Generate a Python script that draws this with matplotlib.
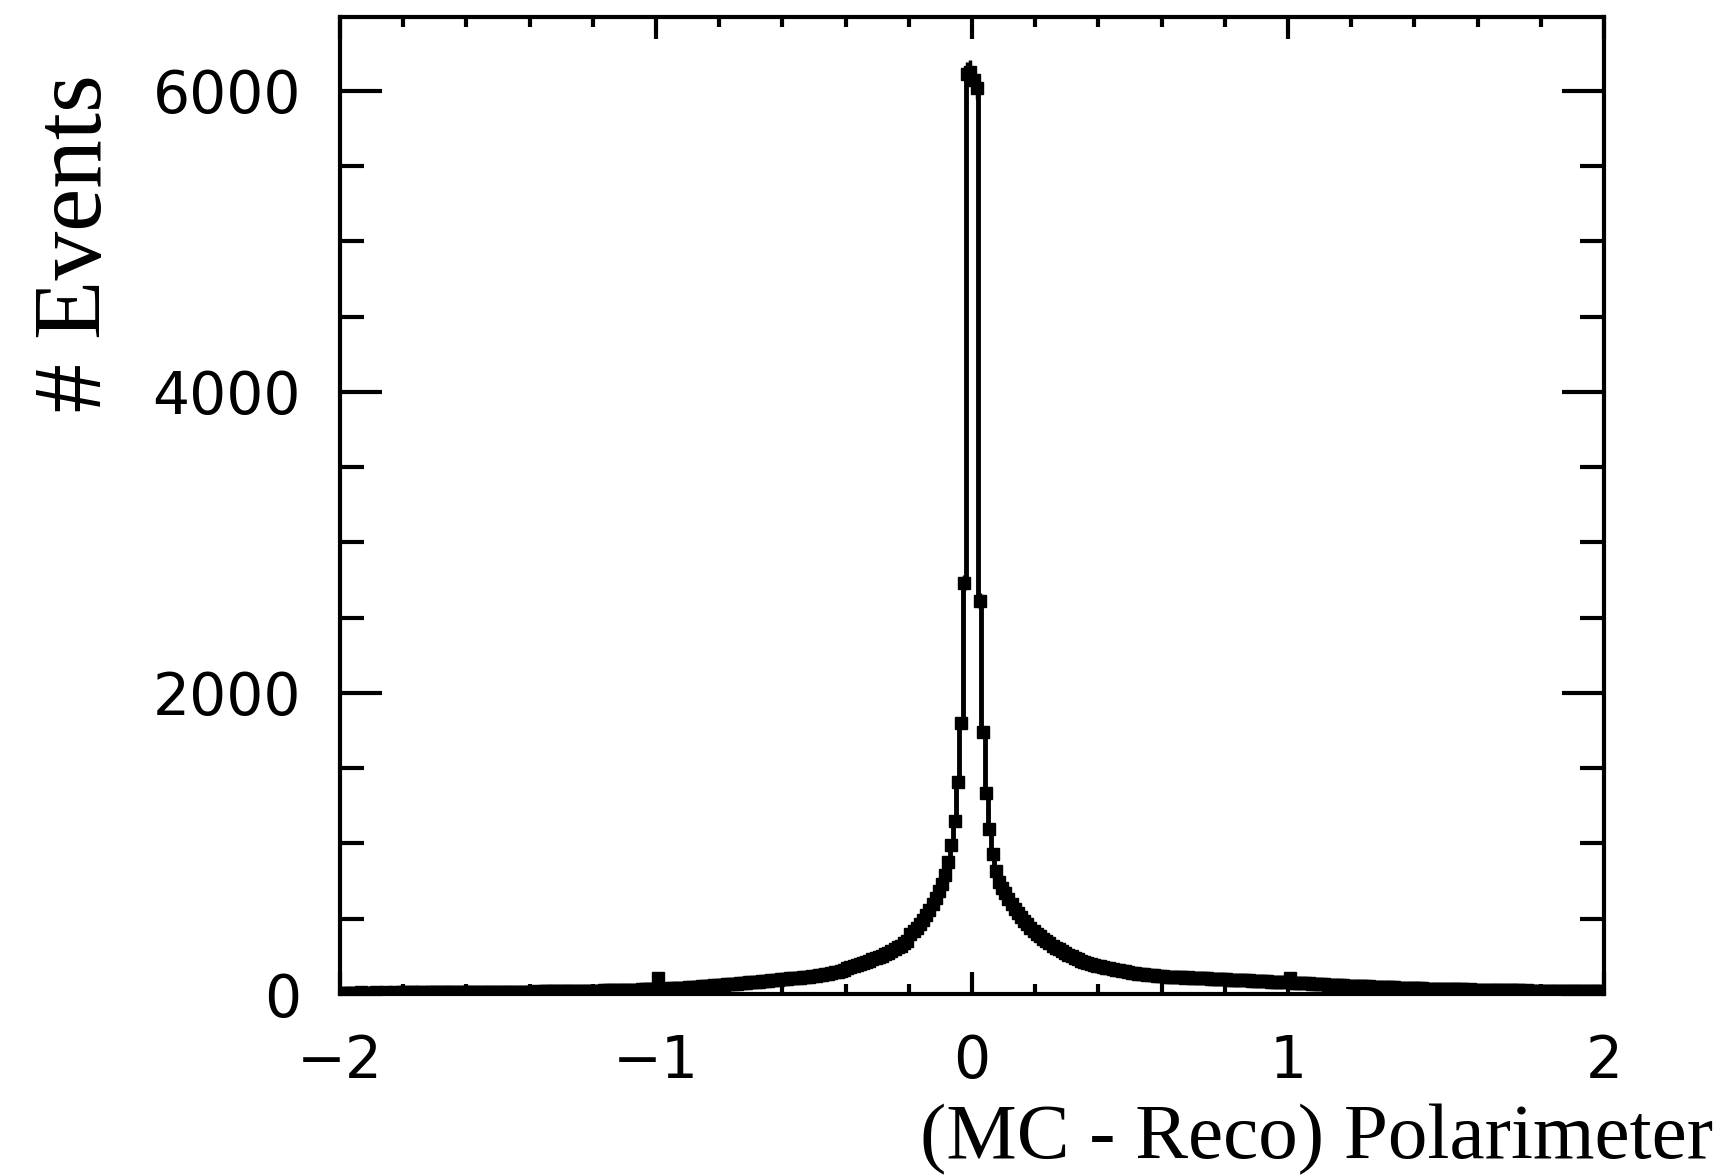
import numpy as np
import matplotlib.pyplot as plt

# bin edges: 400 bins of 0.01 between -2 and 2
x_lo, x_hi, n_bins = -2.0, 2.0, 400

# left half, bins centred -1.995 ... -0.005
left_counts = [
    8, 9, 7, 8, 9, 8, 10, 8, 9, 7, 9, 10, 8, 9, 10, 9, 8, 10, 9, 10,
    10, 9, 11, 10, 10, 11, 9, 11, 12, 10, 11, 10, 12, 11, 11, 12, 10, 12, 11, 12,
    12, 13, 12, 11, 13, 12, 14, 13, 12, 14, 13, 14, 13, 15, 14, 13, 15, 14, 15, 16,
    15, 16, 17, 16, 17, 18, 17, 18, 19, 18, 19, 20, 19, 20, 21, 20, 21, 22, 21, 22,
    22, 23, 23, 24, 24, 25, 25, 26, 26, 27, 27, 28, 28, 29, 29, 30, 30, 31, 31, 32,
    105, 34, 35, 36, 37, 38, 39, 40, 41, 43, 44, 45, 47, 48, 50, 52, 53, 55, 57, 59,
    61, 62, 64, 66, 68, 69, 71, 73, 75, 77, 79, 81, 83, 85, 87, 89, 91, 93, 95, 97,
    99, 101, 103, 105, 107, 109, 111, 113, 115, 118, 121, 124, 127, 130, 134, 138, 143, 148, 154, 161,
    172, 178, 185, 192, 199, 206, 214, 222, 230, 238, 246, 255, 265, 275, 286, 297, 309, 322, 336, 350,
    400, 418, 440, 465, 492, 522, 558, 596, 638, 682, 730, 790, 880, 990, 1150, 1410, 1800, 2730, 6110, 6125,
]

# right half, bins centred 0.005 ... 1.995
right_counts = [
    6070, 6020, 2610, 1740, 1335, 1095, 930, 815, 745, 705, 668, 630, 598, 566, 538, 510, 485, 462, 440, 420,
    400, 382, 366, 350, 336, 322, 308, 296, 284, 272, 261, 250, 240, 230, 222, 214, 206, 199, 193, 188,
    183, 178, 174, 170, 166, 162, 158, 154, 150, 146, 142, 139, 136, 133, 130, 127, 125, 123, 121, 119,
    118, 115, 116, 113, 114, 111, 112, 109, 110, 107, 108, 105, 106, 103, 104, 101, 102, 99, 100, 97,
    97, 96, 94, 95, 92, 93, 90, 91, 88, 89, 86, 87, 84, 85, 83, 82, 81, 80, 79, 78,
    105, 76, 75, 74, 72, 71, 70, 69, 67, 66, 65, 64, 62, 61, 60, 59, 58, 57, 56, 55,
    55, 54, 53, 51, 52, 50, 49, 48, 48, 47, 46, 45, 44, 44, 43, 42, 41, 41, 40, 39,
    38, 38, 37, 36, 36, 35, 34, 34, 33, 33, 32, 32, 31, 31, 30, 30, 29, 30, 29, 28,
    28, 27, 28, 27, 26, 27, 26, 25, 26, 25, 24, 25, 24, 24, 23, 24, 23, 23, 22, 23,
    22, 22, 21, 22, 21, 20, 21, 20, 20, 19, 20, 19, 19, 18, 19, 18, 18, 17, 18, 17,
]

counts = np.array(left_counts + right_counts, dtype=float)
edges = np.linspace(x_lo, x_hi, n_bins + 1)
centers = 0.5 * (edges[:-1] + edges[1:])
half_w = 0.5 * (edges[1] - edges[0])

fig = plt.figure(figsize=(17.35, 11.76), dpi=100)
ax = fig.add_axes([340 / 1735, 1 - 994 / 1176, 1264 / 1735, 977 / 1176])

ax.stairs(counts, edges, color='black', linewidth=3.5, zorder=2)
ax.errorbar(centers, counts, yerr=np.sqrt(counts), xerr=half_w, fmt='s',
            color='black', markersize=8, elinewidth=2.5, capsize=0, zorder=3)

ax.set_xlim(x_lo, x_hi)
ax.set_ylim(0, 6490)

ax.set_xticks([-2, -1, 0, 1, 2])
ax.set_xticklabels(['\u22122', '\u22121', '0', '1', '2'])
ax.set_xticks(np.arange(-2, 2.01, 0.2), minor=True)
ax.set_yticks([0, 2000, 4000, 6000])
ax.set_yticks(np.arange(0, 6490, 500), minor=True)

for side in ax.spines.values():
    side.set_linewidth(3)
    side.set_zorder(5)

ax.tick_params(axis='both', which='both', direction='in', top=True, right=True,
               width=3, labelsize=42)
ax.tick_params(axis='x', which='major', length=16, pad=28)
ax.tick_params(axis='x', which='minor', length=7)
ax.tick_params(axis='y', which='major', length=30, pad=28)
ax.tick_params(axis='y', which='minor', length=17)
for lab in ax.get_xticklabels() + ax.get_yticklabels():
    lab.set_family('DejaVu Sans')

fig.text(1713 / 1735, 1 - 1140 / 1176, '(MC - Reco) Polarimeter', ha='right', va='center',
         family='Liberation Serif', fontsize=57)
fig.text(78 / 1735, 1 - 243 / 1176, '# Events', rotation=90, ha='center', va='center',
         family='Liberation Serif', fontsize=70)

fig.savefig('out.png', dpi=100)
